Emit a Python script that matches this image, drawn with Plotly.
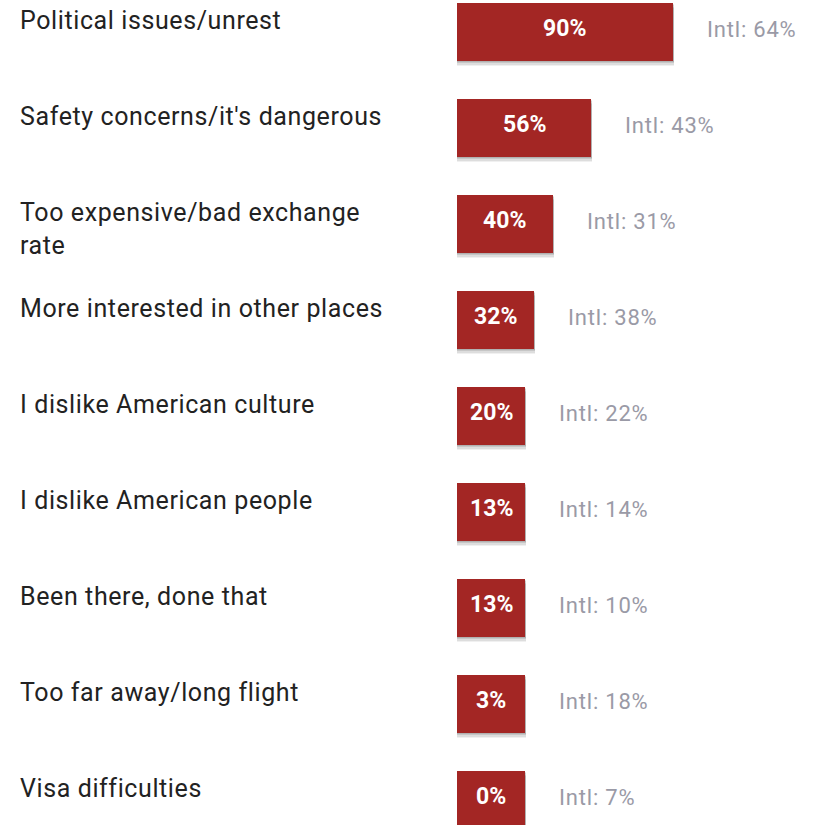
import plotly.graph_objects as go

categories = [
    "Political issues/unrest",
    "Safety concerns/it's dangerous",
    "Too expensive/bad exchange<br>rate",
    "More interested in other places",
    "I dislike American culture",
    "I dislike American people",
    "Been there, done that",
    "Too far away/long flight",
    "Visa difficulties",
]
us_values = [90, 56, 40, 32, 20, 13, 13, 3, 0]
intl_values = [64, 43, 31, 38, 22, 14, 10, 18, 7]

MIN_W = 28.4  # minimum displayed bar length (in % units) so the label fits
disp = [max(v, MIN_W) for v in us_values]
ypos = list(range(len(categories)))

BAR_W = 0.604
RED = "#a32624"


def spaced(t, ls):
    return "<br>".join(f'<span style="letter-spacing:{ls}px">{p}</span>' for p in t.split("<br>"))


fig = go.Figure()

# soft drop shadow
for dy, alpha in [(0.055, 0.06), (0.04, 0.08), (0.025, 0.10), (0.012, 0.10)]:
    fig.add_trace(go.Bar(
        x=[d + 0.4 for d in disp], y=ypos, orientation="h",
        width=BAR_W, offset=-BAR_W / 2 + dy,
        marker=dict(color=f"rgba(0,0,0,{alpha})", line=dict(width=0)),
        hoverinfo="skip", showlegend=False,
    ))

fig.add_trace(go.Bar(
    x=disp, y=ypos, orientation="h", width=BAR_W,
    marker=dict(color=RED, line=dict(width=0)),
    hoverinfo="skip", showlegend=False,
))

annotations = []
for i, (cat, d, v, iv) in enumerate(zip(categories, disp, us_values, intl_values)):
    annotations.append(dict(
        x=d / 2, y=i, xref="x", yref="y", text=f"<b>{v}%</b>",
        xanchor="center", yanchor="middle", yshift=4, showarrow=False,
        font=dict(family="Roboto", size=23, color="white"),
    ))
    annotations.append(dict(
        x=d, y=i, xref="x", yref="y", text=spaced(f"Intl: {iv}%", 0.8),
        xanchor="left", yanchor="middle", xshift=32, yshift=3, showarrow=False,
        font=dict(family="Roboto", size=22, color="#9a9aa6"),
    ))
    annotations.append(dict(
        x=(18 - 457) / 360, y=i - BAR_W / 2, xref="x domain", yref="y", text=spaced(cat, 0.6),
        xanchor="left", yanchor="top", yshift=-1, showarrow=False, align="left",
        font=dict(family="Roboto", size=25, color="#222222"),
    ))

fig.update_layout(
    width=817, height=825,
    margin=dict(l=457, r=0, t=0, b=0),
    plot_bgcolor="white", paper_bgcolor="white",
    barmode="overlay", bargap=0,
    xaxis=dict(range=[0, 150.2], visible=False, fixedrange=True),
    yaxis=dict(range=[(825 - 32) / 96, -32 / 96], visible=False, fixedrange=True),
    annotations=annotations,
)

fig.write_html(
    "out.html",
    config={"displayModeBar": False},
    post_script="document.body.style.margin='0';document.body.style.overflow='hidden';",
)
